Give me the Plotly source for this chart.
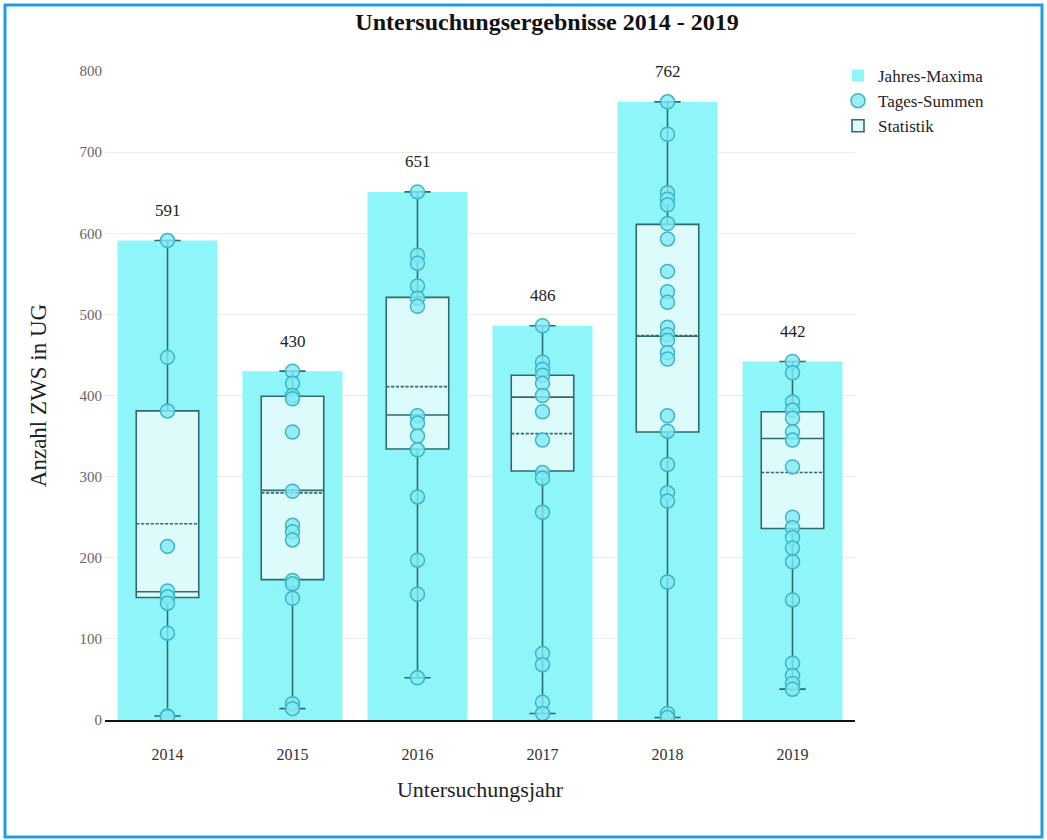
import plotly.graph_objects as go

years = [2014, 2015, 2016, 2017, 2018, 2019]
year_labels = ["2014", "2015", "2016", "2017", "2018", "2019"]
jahres_maxima = [591, 430, 651, 486, 762, 442]

tages_summen = {
    2014: [591, 447, 381, 214, 159, 152, 144, 107, 5, 4],
    2015: [430, 415, 400, 396, 355, 282, 240, 232, 222, 172, 168, 150, 20, 14],
    2016: [651, 573, 563, 535, 520, 510, 375, 366, 350, 333, 275, 197, 155, 52],
    2017: [486, 441, 432, 425, 415, 400, 380, 345, 305, 298, 256, 82, 68, 22, 8],
    2018: [762, 722, 650, 642, 635, 612, 593, 553, 528, 515, 484, 475, 468,
           453, 445, 375, 356, 315, 280, 270, 170, 8, 3],
    2019: [442, 428, 392, 382, 372, 355, 345, 312, 250, 237, 225, 212, 195,
           148, 70, 55, 45, 38],
}

stat_q1 = [151, 173, 334, 307, 355, 236]
stat_median = [158, 283, 376, 398, 473, 347]
stat_q3 = [381, 399, 521, 425, 611, 380]
stat_mean = [242, 280, 411, 353, 474, 305]
stat_lower = [5, 14, 52, 8, 3, 38]
stat_upper = [591, 430, 651, 486, 762, 442]

y_ticks = [0, 100, 200, 300, 400, 500, 600, 700, 800]

FONT = "Liberation Serif"
W, H = 1047, 840
ML, MR, MT, MB = 105, 192, 71, 120
PW, PH = W - ML - MR, H - MT - MB


def px_x(p):
    return (p - ML) / PW


def px_y(p):
    return (H - MB - p) / PH


pts_x, pts_y = [], []
for yr in years:
    for v in tages_summen[yr]:
        pts_x.append(yr)
        pts_y.append(v)

fig = go.Figure()
fig.add_trace(go.Bar(
    x=years, y=jahres_maxima, name="Jahres-Maxima", width=0.8,
    marker=dict(color="#8ef5f8", line=dict(width=0)),
    legendrank=1,
))
fig.add_trace(go.Box(
    x=years, q1=stat_q1, median=stat_median, q3=stat_q3, mean=stat_mean,
    lowerfence=stat_lower, upperfence=stat_upper, boxmean=True,
    orientation="v",
    name="Statistik", width=0.5, whiskerwidth=0.42,
    fillcolor="#defbfc", line=dict(color="#2f6a6d", width=1.6),
    boxpoints=False, hoverinfo="skip", legendrank=3,
))
fig.add_trace(go.Scatter(
    x=pts_x, y=pts_y, mode="markers", name="Tages-Summen",
    marker=dict(size=14, color="rgba(130,234,244,0.8)",
                line=dict(color="#3cb6c6", width=1.5)),
    legendrank=2,
))

for yr, m in zip(years, jahres_maxima):
    fig.add_annotation(x=yr, y=m, text=str(m), showarrow=False,
                       yshift=30, font=dict(family=FONT, size=17, color="#222"))

fig.add_shape(type="rect", xref="paper", yref="paper",
              x0=px_x(5), x1=px_x(1042), y0=px_y(837), y1=px_y(5),
              line=dict(color="#1f9de0", width=3), fillcolor="rgba(0,0,0,0)",
              layer="above")

fig.update_layout(
    width=W, height=H,
    margin=dict(l=ML, r=MR, t=MT, b=MB),
    paper_bgcolor="white", plot_bgcolor="white",
    barmode="overlay", boxmode="overlay",
    font=dict(family=FONT, size=15, color="#222"),
    title=dict(text="<b>Untersuchungsergebnisse 2014 - 2019</b>",
               x=px_x(547), xref="paper", xanchor="center",
               y=1 - 22 / H, yanchor="middle",
               font=dict(family=FONT, size=24, color="#111")),
    legend=dict(x=px_x(838), y=px_y(58), xanchor="left", yanchor="top",
                font=dict(family=FONT, size=17, color="#222"),
                traceorder="normal", tracegroupgap=0,
                bgcolor="rgba(0,0,0,0)", itemwidth=30),
    showlegend=True,
)
fig.update_xaxes(
    type="linear", range=[years[0] - 0.5, years[-1] + 0.5],
    tickvals=years, ticktext=year_labels,
    showline=True, linecolor="#111", linewidth=1.5,
    showgrid=False, zeroline=False, ticks="", ticklabelstandoff=19,
    tickfont=dict(family=FONT, size=16, color="#333"),
    title=dict(text="Untersuchungsjahr", standoff=20,
               font=dict(family=FONT, size=22, color="#222")),
)
fig.update_yaxes(
    range=[0, 800], tickvals=y_ticks, showgrid=True, gridcolor="#ececec",
    zeroline=False, showline=False, ticks="", ticklabelstandoff=2,
    tickfont=dict(family=FONT, size=15, color="#666"),
    title=dict(text="Anzahl ZWS in UG", standoff=26,
               font=dict(family=FONT, size=23, color="#222")),
)

fig.write_html("out.html", config={"displayModeBar": False},
               post_script="document.body.style.margin='0';document.body.style.overflow='hidden';")
